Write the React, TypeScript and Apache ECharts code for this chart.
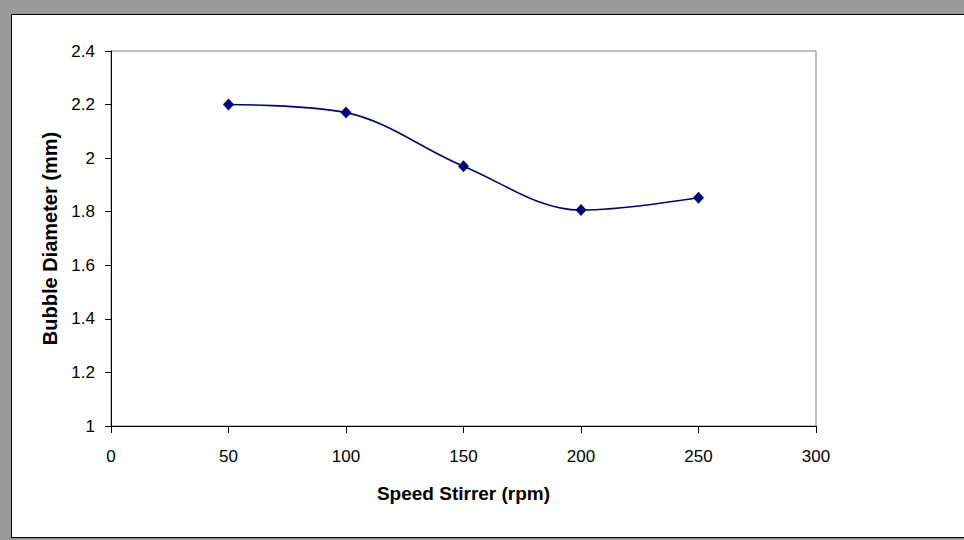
import React, { useEffect, useRef } from "react";
import * as echarts from "echarts";

const speeds = [50, 100, 150, 200, 250];
const diameters = [2.2, 2.17, 1.97, 1.806, 1.852];
const xTitle = "Speed Stirrer (rpm)";
const yTitle = "Bubble Diameter (mm)";

export default function App() {
  const ref = useRef<HTMLDivElement>(null);
  useEffect(() => {
    const chart = echarts.init(ref.current!, null, { renderer: "svg" });
    const font = "'Liberation Sans', Arial, sans-serif";
    chart.setOption({
      animation: false,
      backgroundColor: "#ffffff",
      grid: {
        left: 111,
        top: 51,
        right: 148,
        bottom: 114,
        show: true,
        borderColor: "#808080",
        borderWidth: 1,
      },
      xAxis: {
        type: "value",
        min: 0,
        max: 300,
        interval: 50,
        name: xTitle,
        nameLocation: "middle",
        nameGap: 58,
        nameTextStyle: { fontFamily: font, fontSize: 19, fontWeight: "bold", color: "#000" },
        axisLine: { show: true, lineStyle: { color: "#000", width: 1 } },
        axisTick: { show: true, length: 7, lineStyle: { color: "#000" } },
        axisLabel: { fontFamily: font, fontSize: 17, color: "#000", margin: 22 },
        splitLine: { show: false },
      },
      yAxis: {
        type: "value",
        min: 1,
        max: 2.4,
        interval: 0.2,
        name: yTitle,
        nameLocation: "middle",
        nameGap: 50,
        nameTextStyle: { fontFamily: font, fontSize: 20, fontWeight: "bold", color: "#000" },
        axisLine: { show: true, lineStyle: { color: "#000", width: 1 } },
        axisTick: { show: true, length: 6, lineStyle: { color: "#000" } },
        axisLabel: {
          fontFamily: font,
          fontSize: 17,
          color: "#000",
          margin: 16,
          formatter: (v: number) => String(Math.round(v * 10) / 10),
        },
        splitLine: { show: false },
      },
      series: [
        {
          type: "line",
          data: speeds.map((s, i) => [s, diameters[i]]),
          smooth: 0.35,
          symbol: "diamond",
          symbolSize: [11, 12],
          lineStyle: { color: "#000080", width: 1.6 },
          itemStyle: { color: "#000080" },
        },
      ],
      graphic: [
        { type: "rect", shape: { x: 0, y: 0, width: 964, height: 14 }, style: { fill: "#999999" }, silent: true },
        { type: "rect", shape: { x: 0, y: 0, width: 11, height: 540 }, style: { fill: "#999999" }, silent: true },
        { type: "line", shape: { x1: 11.5, y1: 14.5, x2: 964, y2: 14.5 }, style: { stroke: "#000", lineWidth: 1 }, silent: true },
        { type: "line", shape: { x1: 11.5, y1: 14.5, x2: 11.5, y2: 538 }, style: { stroke: "#000", lineWidth: 1 }, silent: true },
        { type: "line", shape: { x1: 11.5, y1: 537.5, x2: 964, y2: 537.5 }, style: { stroke: "#000", lineWidth: 1 }, silent: true },
        { type: "rect", shape: { x: 0, y: 538, width: 964, height: 2 }, style: { fill: "#999999" }, silent: true },
      ],
    });
    return () => chart.dispose();
  }, []);
  return (
    <div
      ref={ref}
      style={{ position: "absolute", left: 0, top: 0, width: 964, height: 540 }}
    />
  );
}
